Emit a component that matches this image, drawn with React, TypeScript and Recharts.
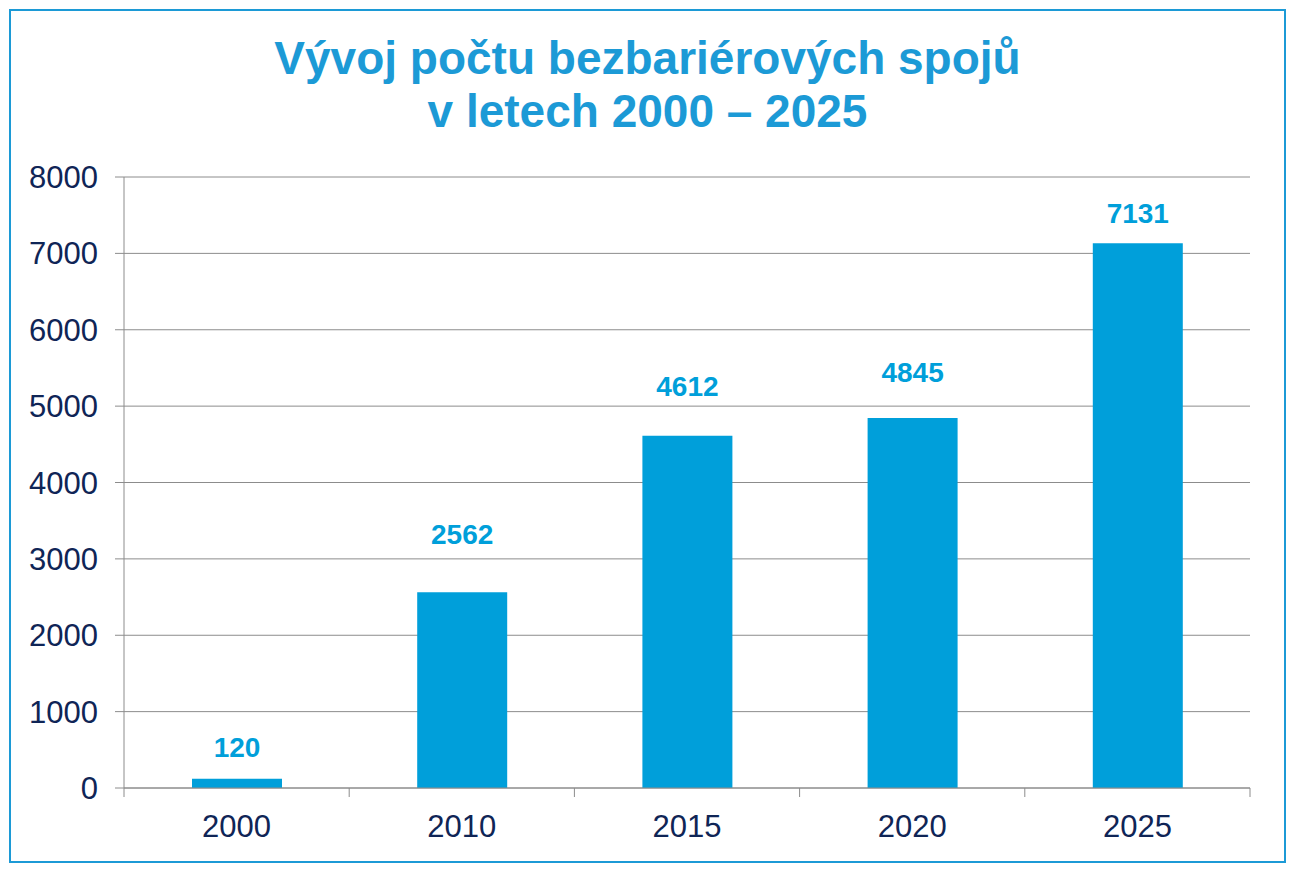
import { BarChart, Bar, XAxis, YAxis, CartesianGrid } from 'recharts'

const years = ['2000', '2010', '2015', '2020', '2025']
const connections = [120, 2562, 4612, 4845, 7131]
const yTicks = [0, 1000, 2000, 3000, 4000, 5000, 6000, 7000, 8000]
// gap between bar top and its value label, as in the original slide
const labelGap = [22, 48, 40, 36, 20]

const data = years.map((year, i) => ({ year, value: connections[i] }))

const BLUE = '#009FDA'
const NAVY = '#0F2556'
const GRID = '#8C8C8C'
const FONT = '"Liberation Sans", Arial, sans-serif'
const TICK_SIZE = 9
const TICK_MARGIN = 18

const ValueLabel = (props: any) => {
  const { x, y, width, value, index } = props
  return (
    <text
      x={Number(x) + Number(width) / 2}
      y={Number(y) - labelGap[index]}
      textAnchor="middle"
      fill={BLUE}
      fontSize={28}
      fontWeight="bold"
      fontFamily={FONT}
    >
      {value}
    </text>
  )
}

// year label plus the small tick marks between categories (Excel style)
const YearTick = (props: any) => {
  const { x, y, payload, index, visibleTicksCount, width } = props
  const step = (Number(width) || 1126) / (visibleTicksCount || years.length)
  const axisY = y - TICK_SIZE - TICK_MARGIN
  const left = x - step / 2
  return (
    <g>
      <line x1={left} x2={left} y1={axisY} y2={axisY + TICK_SIZE} stroke={GRID} />
      {index === visibleTicksCount - 1 && (
        <line x1={left + step} x2={left + step} y1={axisY} y2={axisY + TICK_SIZE} stroke={GRID} />
      )}
      <text x={x} y={y} dy="0.71em" textAnchor="middle" fill={NAVY} fontSize={31} fontFamily={FONT}>
        {payload.value}
      </text>
    </g>
  )
}

export default function App() {
  return (
    <div style={{ position: 'absolute', left: 0, top: 0, width: 1295, height: 873, background: '#fff' }}>
      <div
        style={{
          position: 'absolute',
          left: 9,
          top: 9,
          width: 1273,
          height: 850,
          border: '2px solid #1C9AD6',
        }}
      />
      <div
        style={{
          position: 'absolute',
          left: 0,
          top: 32,
          width: 1295,
          textAlign: 'center',
          fontFamily: FONT,
          fontWeight: 'bold',
          fontSize: 46,
          lineHeight: '53px',
          color: '#1C9AD6',
        }}
      >
        Vývoj počtu bezbariérových spojů
        <br />v letech 2000 – 2025
      </div>
      <div style={{ position: 'absolute', left: 0, top: 0 }}>
        <BarChart
          width={1295}
          height={873}
          data={data}
          margin={{ top: 177, right: 45, bottom: 45, left: 64 }}
          style={{ fontFamily: FONT }}
        >
          <CartesianGrid vertical={false} stroke={GRID} strokeWidth={1} />
          <XAxis
            dataKey="year"
            interval={0}
            tickLine={false}
            axisLine={{ stroke: GRID }}
            tickSize={TICK_SIZE}
            tickMargin={TICK_MARGIN}
            height={40}
            tick={YearTick}
          />
          <YAxis
            domain={[0, 8000]}
            ticks={yTicks}
            interval={0}
            width={60}
            tickSize={9}
            tickMargin={17}
            tickLine={{ stroke: GRID }}
            axisLine={{ stroke: GRID }}
            tick={{ fill: NAVY, fontSize: 31 }}
          />
          <Bar dataKey="value" fill={BLUE} barSize={90} isAnimationActive={false} label={ValueLabel} />
        </BarChart>
      </div>
    </div>
  )
}
